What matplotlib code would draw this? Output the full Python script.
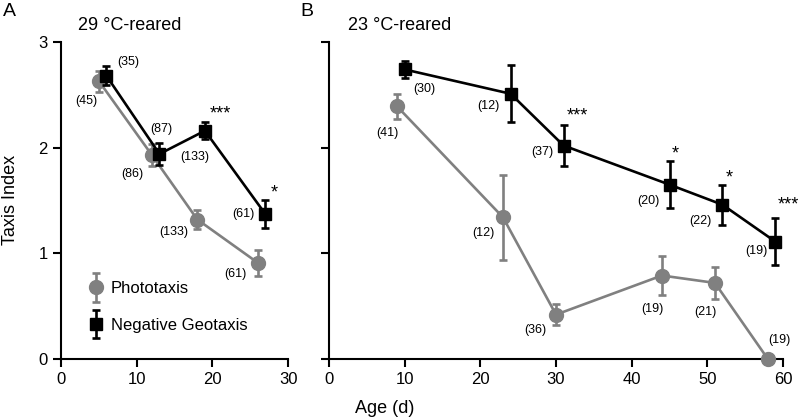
import matplotlib
matplotlib.use("Agg")
import matplotlib.pyplot as plt
from matplotlib.legend_handler import HandlerErrorbar

plt.rcParams['font.family'] = ['Liberation Sans', 'DejaVu Sans']

# Panel A (29 °C-reared)
a_photo_x = [5, 12, 18, 26]
a_photo_y = [2.63, 1.93, 1.32, 0.91]
a_photo_err = [0.10, 0.10, 0.09, 0.125]
a_photo_n = ["(45)", "(86)", "(133)", "(61)"]

a_geo_x = [6, 13, 19, 27]
a_geo_y = [2.68, 1.94, 2.16, 1.37]
a_geo_err = [0.09, 0.10, 0.08, 0.13]
a_geo_n = ["(35)", "(87)", "(133)", "(61)"]
a_sig = ["", "", "***", "*"]

# Panel B (23 °C-reared)
b_photo_x = [9, 23, 30, 44, 51, 58]
b_photo_y = [2.39, 1.34, 0.42, 0.79, 0.72, 0.0]
b_photo_err = [0.12, 0.40, 0.10, 0.18, 0.15, 0.0]
b_photo_n = ["(41)", "(12)", "(36)", "(19)", "(21)", "(19)"]

b_geo_x = [10, 24, 31, 45, 52, 59]
b_geo_y = [2.74, 2.51, 2.02, 1.65, 1.46, 1.11]
b_geo_err = [0.08, 0.27, 0.19, 0.22, 0.19, 0.22]
b_geo_n = ["(30)", "(12)", "(37)", "(20)", "(22)", "(19)"]
b_sig = ["", "", "***", "*", "*", "***"]

GREY = "#808080"
BLACK = "#000000"

fig = plt.figure(figsize=(8, 4.19), dpi=100)
axA = fig.add_axes([0.07625, 0.1432, 0.284, 0.7566])
axB = fig.add_axes([0.41125, 0.1432, 0.5675, 0.7566])


def draw(ax, px, py, pe, gx, gy, ge):
    ax.plot(px, py, color=GREY, lw=1.9, zorder=2, clip_on=False)
    hp = ax.errorbar(px, py, yerr=pe, color=GREY, marker='o', markersize=10,
                     ls='none', elinewidth=1.9, capsize=3, capthick=1.9,
                     clip_on=False, zorder=3, label="Phototaxis")
    ax.plot(gx, gy, color=BLACK, lw=1.9, zorder=4, clip_on=False)
    hg = ax.errorbar(gx, gy, yerr=ge, color=BLACK, marker='s', markersize=9,
                     ls='none', elinewidth=1.9, capsize=3, capthick=1.9,
                     clip_on=False, zorder=5, label="Negative Geotaxis")
    ax.set_ylim(0, 3)
    ax.set_yticks([0, 1, 2, 3])
    for s in ("top", "right"):
        ax.spines[s].set_visible(False)
    for s in ("left", "bottom"):
        ax.spines[s].set_linewidth(1.5)
    ax.tick_params(direction='out', length=6, width=1.5, labelsize=12)
    return hp, hg


hp, hg = draw(axA, a_photo_x, a_photo_y, a_photo_err, a_geo_x, a_geo_y, a_geo_err)
axA.set_xlim(0, 30)
axA.set_xticks([0, 10, 20, 30])
draw(axB, b_photo_x, b_photo_y, b_photo_err, b_geo_x, b_geo_y, b_geo_err)
axB.set_xlim(0, 60)
axB.set_xticks([0, 10, 20, 30, 40, 50, 60])
axB.set_yticklabels([])

# n label offsets (points) from each data point
a_photo_off = [(-9, -14), (-14, -14), (-17, -9), (-16, -8)]
a_geo_off = [(16, 10), (1, 18), (-7, -19), (-16, 0)]
b_photo_off = [(-7, -19), (-14, -11), (-15, -11), (-7, -24), (-7, -21), (8, 14)]
b_geo_off = [(14, -14), (-16, -9), (-15, -5), (-15, -12), (-16, -12), (-14, -7)]


def nlabels(ax, xs, ys, labels, offs):
    for x, y, t, o in zip(xs, ys, labels, offs):
        ax.annotate(t, (x, y), xytext=o, textcoords='offset points',
                    ha='center', va='center', fontsize=9, annotation_clip=False)


nlabels(axA, a_photo_x, a_photo_y, a_photo_n, a_photo_off)
nlabels(axA, a_geo_x, a_geo_y, a_geo_n, a_geo_off)
nlabels(axB, b_photo_x, b_photo_y, b_photo_n, b_photo_off)
nlabels(axB, b_geo_x, b_geo_y, b_geo_n, b_geo_off)

a_sig_off = [None, None, (11, 6), (6, 5.5)]
b_sig_off = [None, None, (10, 6.5), (4.5, 5.5), (5, 5), (9, 9.5)]


def sig(ax, xs, ys, es, marks, offs):
    for x, y, e, m, o in zip(xs, ys, es, marks, offs):
        if m:
            ax.annotate(m, (x, y + e), xytext=o, textcoords='offset points',
                        ha='center', va='center', fontsize=13,
                        annotation_clip=False)


sig(axA, a_geo_x, a_geo_y, a_geo_err, a_sig, a_sig_off)
sig(axB, b_geo_x, b_geo_y, b_geo_err, b_sig, b_sig_off)

axA.legend(handles=[hp, hg], loc='lower left', bbox_to_anchor=(0.05, 0.035),
           frameon=False, fontsize=12, handlelength=1.0, handletextpad=0.4,
           labelspacing=1.3,
           handler_map={type(hp): HandlerErrorbar(yerr_size=0.85)})

fig.text(11 / 800, 1 - 200 / 419, "Taxis Index", rotation=90, ha='center',
         va='center', fontsize=13)
fig.text(385 / 800, 1 - 408 / 419, "Age (d)", ha='center', va='center', fontsize=13)
fig.text(3 / 800, 1 - 12 / 419, "A", ha='left', va='center', fontsize=14)
fig.text(300 / 800, 1 - 12 / 419, "B", ha='left', va='center', fontsize=14)
fig.text(78 / 800, 1 - 25 / 419, "29 °C-reared", ha='left', va='center', fontsize=13)
fig.text(348 / 800, 1 - 25 / 419, "23 °C-reared", ha='left', va='center', fontsize=13)

fig.savefig("out.png", dpi=100)
